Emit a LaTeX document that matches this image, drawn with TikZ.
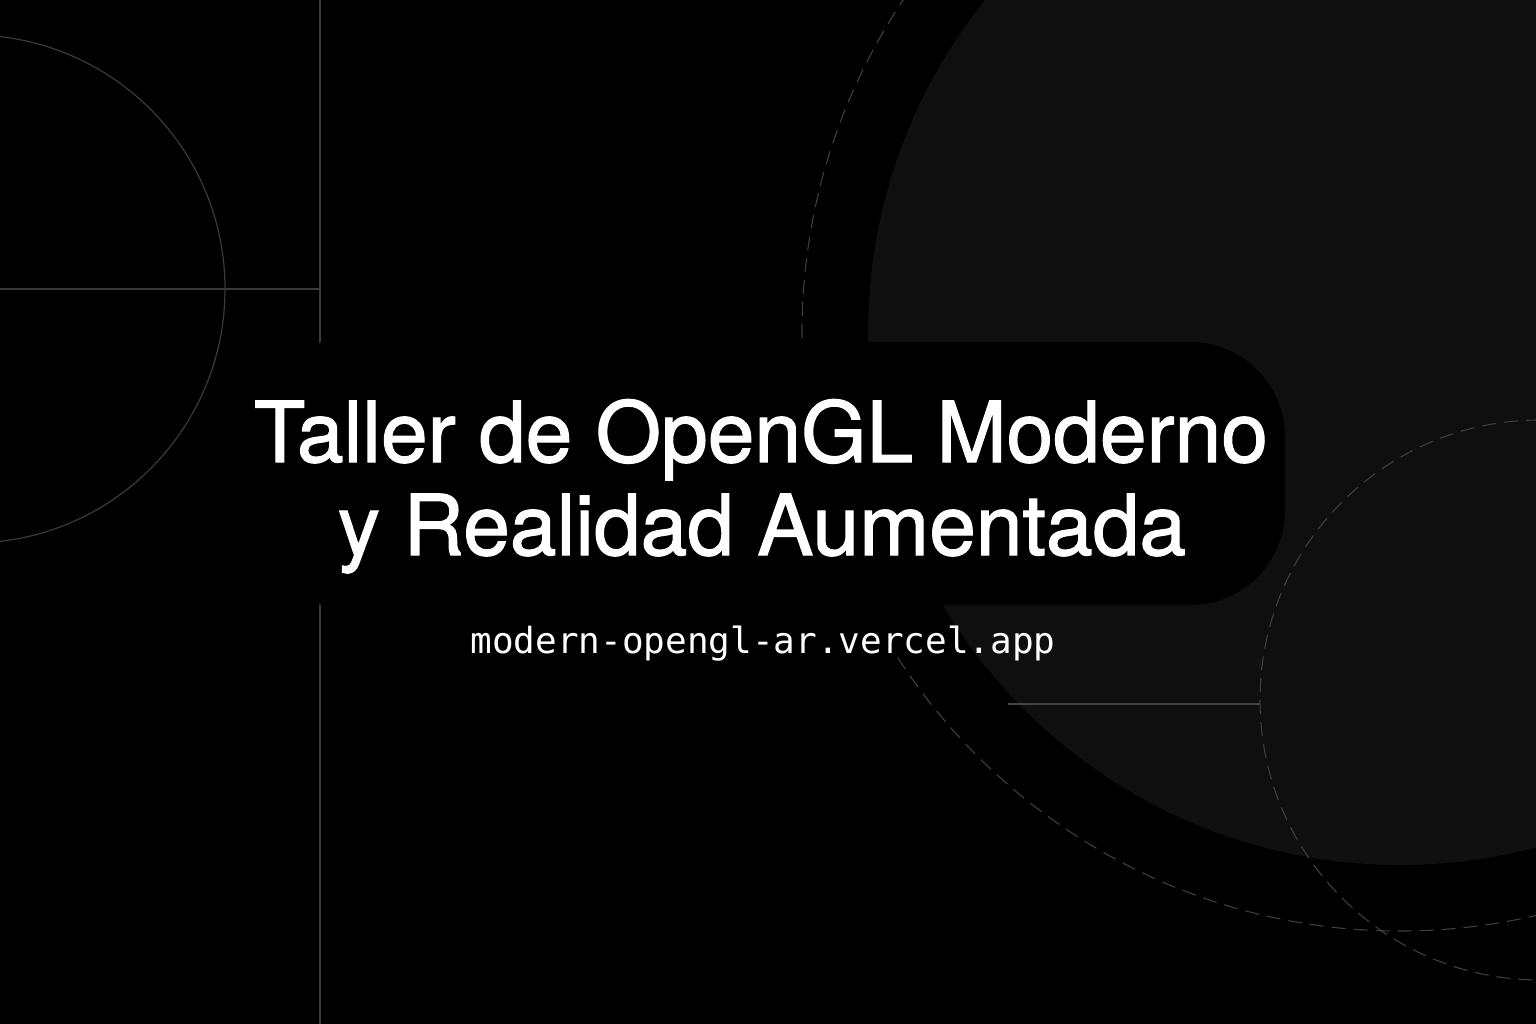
\documentclass[tikz,border=0pt]{standalone}
\usepackage{fontspec}
\setmainfont{TeX Gyre Heros}
\newfontfamily\titlefont{TeX Gyre Heros}[FakeBold=1.4]
\newfontfamily\urlfont{DejaVu Sans Mono}
\definecolor{bgblack}{HTML}{000000}
\definecolor{disc}{HTML}{0F0F0F}
\definecolor{guide}{HTML}{3A3A3A}
\definecolor{dashc}{HTML}{3E3E3E}
\definecolor{rulec}{HTML}{444444}
\tikzset{
  guideline/.style={draw=guide, line width=1.2pt},
  dashring/.style={draw=dashc, line width=1.1pt, dash pattern=on 14pt off 8pt},
  titletext/.style={text=white, inner sep=0pt, anchor=base, font=\titlefont\fontsize{84}{84}\selectfont},
  urltext/.style={text=white, inner sep=0pt, anchor=base, font=\urlfont\fontsize{36}{36}\selectfont},
}
\begin{document}
\begin{tikzpicture}[x=1pt,y=-1pt]
\useasboundingbox (0,0) rectangle (1536,1024);
\fill[bgblack] (0,0) rectangle (1536,1024);
% left guides
\draw[guideline] (-29,289) circle[radius=254pt];
\draw[guideline] (0,289) -- (320,289);
\draw[guideline] (320,0) -- (320,1024);
% outer dashed ring
\draw[dashring] (1400,333) circle[radius=598pt];
% black mask behind the url (hides the ring there)
\fill[bgblack] (460,605) rectangle (1070,656);
% big disc
\fill[disc] (1400,333) circle[radius=532pt];
% small dashed ring and rule
\draw[dashring] (1540,700) circle[radius=280pt];
\coordinate (rulestart) at (1008,704);
\coordinate (ruleend) at (1260,704);
\draw[draw=rulec, line width=1.2pt] (rulestart) -- (ruleend);
% title backdrop
\fill[bgblack, rounded corners=95pt] (235,342) rectangle (1285,605);
% texts
\node[titletext] (title1) at (761,462) {Taller de OpenGL Moderno};
\node[titletext] (title2) at (762,555) {y Realidad Aumentada};
\node[urltext] (url) at (763,653) {modern-opengl-ar.vercel.app};
\end{tikzpicture}
\end{document}
